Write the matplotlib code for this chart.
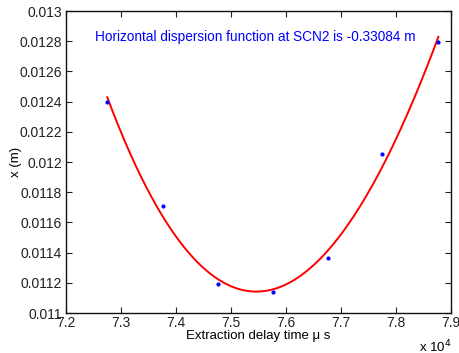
import numpy as np
import matplotlib
matplotlib.use('Agg')
import matplotlib.pyplot as plt
from matplotlib.ticker import FuncFormatter, MultipleLocator

plt.rcParams['font.family'] = ['Liberation Sans', 'DejaVu Sans']

# extraction delay (us) and measured horizontal position (m)
delay = np.array([72750, 73760, 74760, 75760, 76760, 77750, 78770])
xpos = np.array([0.012400, 0.011711, 0.011194, 0.011137, 0.011366, 0.012053, 0.012797])
disp_label = 'Horizontal dispersion function at SCN2 is -0.33084 m'

# polynomial fit through the scan
coef = np.polyfit(delay, xpos, 3)
tt = np.linspace(delay[0], delay[-1], 300)
fit = np.polyval(coef, tt)

fig = plt.figure(figsize=(4.59, 3.53), dpi=100)
ax = fig.add_axes([0.1438, 0.1133, 0.8388, 0.8555])

ax.plot(tt, fit, color='red', lw=1.4)
ax.plot(delay, xpos, '.', color='blue', ms=4)

ax.set_xlim(72000, 79000)
ax.set_ylim(0.011, 0.013)
ax.xaxis.set_major_locator(MultipleLocator(1000))
ax.yaxis.set_major_locator(MultipleLocator(0.0002))
ax.xaxis.set_major_formatter(FuncFormatter(lambda v, p: '%g' % round(v / 1e4, 3)))
ax.yaxis.set_major_formatter(FuncFormatter(lambda v, p: '%g' % round(v, 5)))
ax.tick_params(direction='in', top=True, right=True, length=4, width=0.8,
               labelsize=10, colors='#222222', pad=3)
ax.tick_params(axis='x', pad=2)
for s in ax.spines.values():
    s.set_linewidth(1.0)
    s.set_color('#111111')

ax.set_xlabel('Extraction delay time μ s', fontsize=9.5, labelpad=0)
ax.set_ylabel('x (m)', fontsize=9.5, labelpad=-2)
ax.text(0.491, 0.915, disp_label, transform=ax.transAxes, ha='center',
        va='center', color='blue', fontsize=9.8)
fig.text(0.913, 0.017, r'x 10$^4$', fontsize=9.5, ha='left', va='center')

fig.savefig('out.png', dpi=100)
